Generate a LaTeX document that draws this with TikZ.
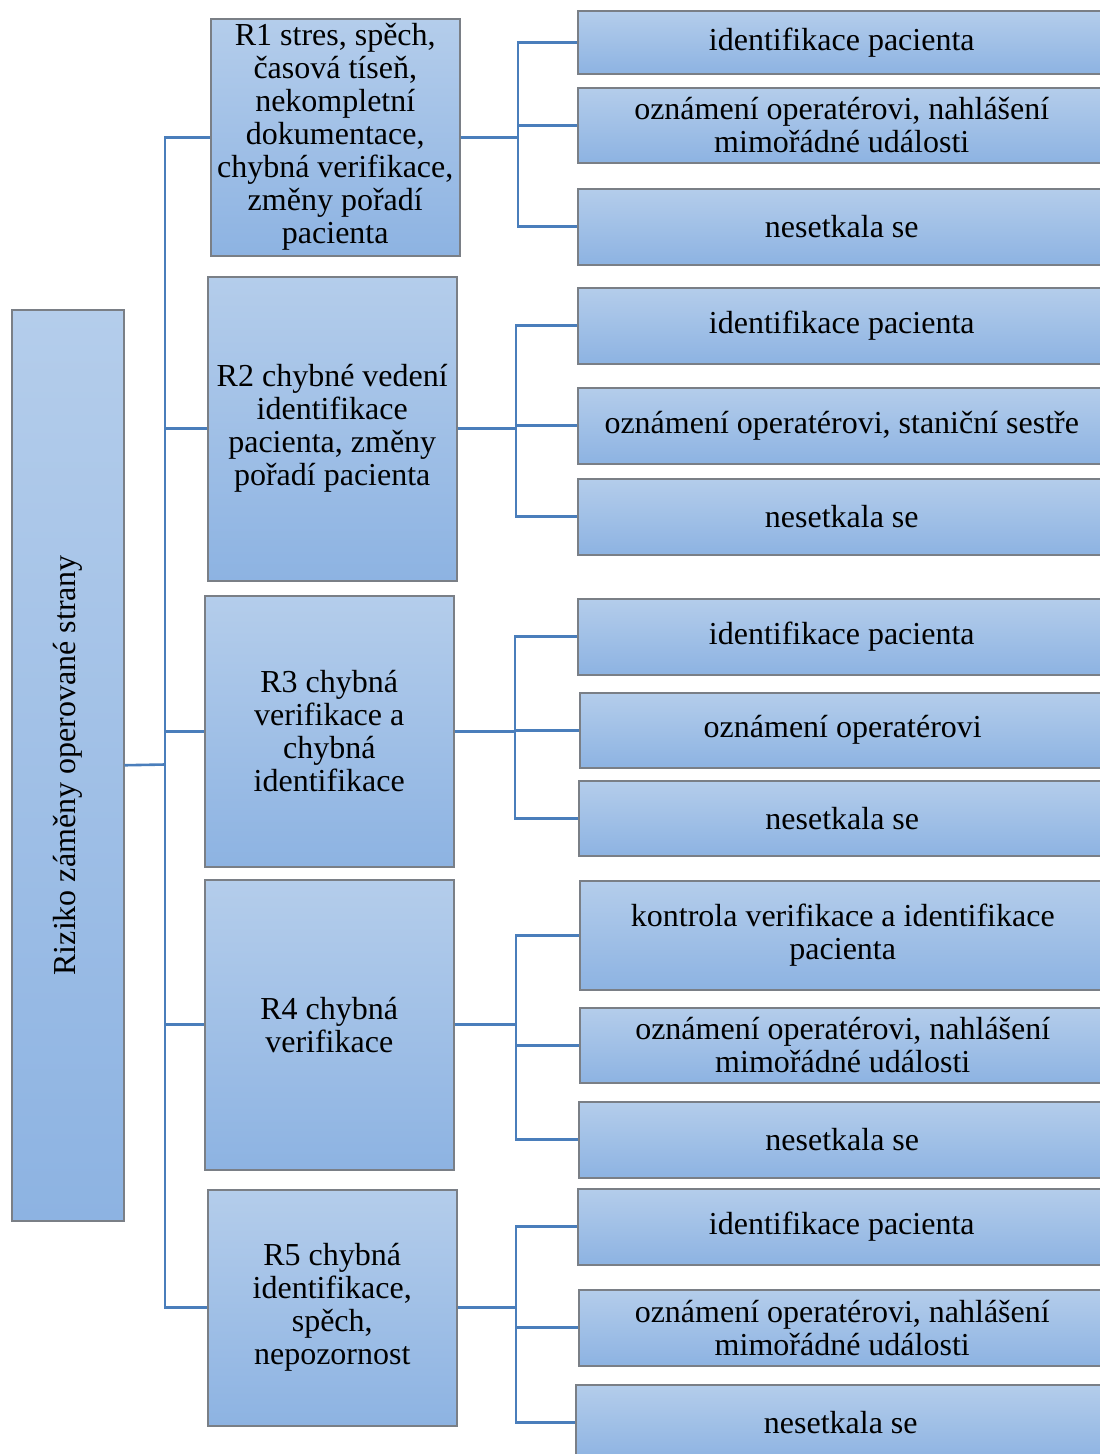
\documentclass[tikz,border=0pt]{standalone}
\usepackage{fontspec}
\setmainfont{Liberation Serif}
\definecolor{boxtop}{HTML}{B4CDEB}
\definecolor{boxbot}{HTML}{8DB3E2}
\definecolor{boxline}{HTML}{7A7F86}
\definecolor{linkblue}{HTML}{4A7EBB}
\tikzset{
  box/.style={draw=boxline, line width=1.5pt, top color=boxtop, bottom color=boxbot,
    anchor=north west, inner sep=0pt, align=center,
    font=\fontsize{32}{33}\selectfont},
  link/.style={draw=linkblue, line width=2.6pt}
}
\begin{document}
\begin{tikzpicture}[x=1pt,y=1pt]
\useasboundingbox (0,0) rectangle (1100,-1454);
\clip (0,0) rectangle (1100,-1454);

% root
\node[box, minimum width=112pt, minimum height=911pt] (root) at (11,-309) {};
\node[rotate=90, font=\fontsize{32}{33}\selectfont] at (root.center) {Riziko záměny operované strany};

% level one
\node[box, minimum width=249pt, minimum height=237pt] (r1) at (210,-18)
  {R1 stres, spěch,\\časová tíseň,\\nekompletní\\dokumentace,\\chybná verifikace,\\změny pořadí\\pacienta};
\node[box, minimum width=249pt, minimum height=304pt] (r2) at (207,-276)
  {R2 chybné vedení\\identifikace\\pacienta, změny\\pořadí pacienta};
\node[box, minimum width=249pt, minimum height=271pt] (r3) at (204,-595)
  {R3 chybná\\verifikace a\\chybná\\identifikace};
\node[box, minimum width=249pt, minimum height=290pt] (r4) at (204,-879)
  {R4 chybná\\verifikace};
\node[box, minimum width=249pt, minimum height=236pt] (r5) at (207,-1189)
  {R5 chybná\\identifikace,\\spěch,\\nepozornost};

% level two
\node[box, minimum width=528pt, minimum height=63pt] (r1a) at (577,-10) {identifikace pacienta};
\node[box, minimum width=528pt, minimum height=75pt] (r1b) at (577,-87) {oznámení operatérovi, nahlášení\\mimořádné události};
\node[box, minimum width=528pt, minimum height=76pt] (r1c) at (577,-188) {nesetkala se};

\node[box, minimum width=528pt, minimum height=76pt] (r2a) at (577,-287) {identifikace pacienta};
\node[box, minimum width=528pt, minimum height=76pt] (r2b) at (577,-387) {oznámení operatérovi, staniční sestře};
\node[box, minimum width=528pt, minimum height=76pt] (r2c) at (577,-478) {nesetkala se};

\node[box, minimum width=528pt, minimum height=76pt] (r3a) at (577,-598) {identifikace pacienta};
\node[box, minimum width=526pt, minimum height=75pt] (r3b) at (579,-692) {oznámení operatérovi};
\node[box, minimum width=527pt, minimum height=75pt] (r3c) at (578,-780) {nesetkala se};

\node[box, minimum width=526pt, minimum height=109pt] (r4a) at (579,-880) {kontrola verifikace a identifikace\\pacienta};
\node[box, minimum width=526pt, minimum height=75pt] (r4b) at (579,-1007) {oznámení operatérovi, nahlášení\\mimořádné události};
\node[box, minimum width=527pt, minimum height=76pt] (r4c) at (578,-1101) {nesetkala se};

\node[box, minimum width=528pt, minimum height=76pt] (r5a) at (577,-1188) {identifikace pacienta};
\node[box, minimum width=527pt, minimum height=76pt] (r5b) at (578,-1289) {oznámení operatérovi, nahlášení\\mimořádné události};
\node[box, minimum width=530pt, minimum height=76pt] (r5c) at (575,-1384) {nesetkala se};

% trunk from the root
\coordinate (trunk) at (165,-764.5);
\draw[link] (root.east) -- (trunk);
\draw[link] (r1.west) -| (trunk) |- (r5.west);
\foreach \n in {r2,r3,r4} \draw[link] (trunk) |- (\n.west);

% brackets to the right-hand boxes
\foreach \n/\x in {r1/518,r2/516,r3/515,r4/516,r5/516}{
  \coordinate (\n k) at (\x,0);
  \draw[link] (\n.east) -- (\n.east -| \n k);
  \draw[link] (\n a.west) -| (\n k |- \n a.west) -- (\n k |- \n c.west) -- (\n c.west);
  \draw[link] (\n k |- \n b.west) -- (\n b.west);
}
\end{tikzpicture}
\end{document}
